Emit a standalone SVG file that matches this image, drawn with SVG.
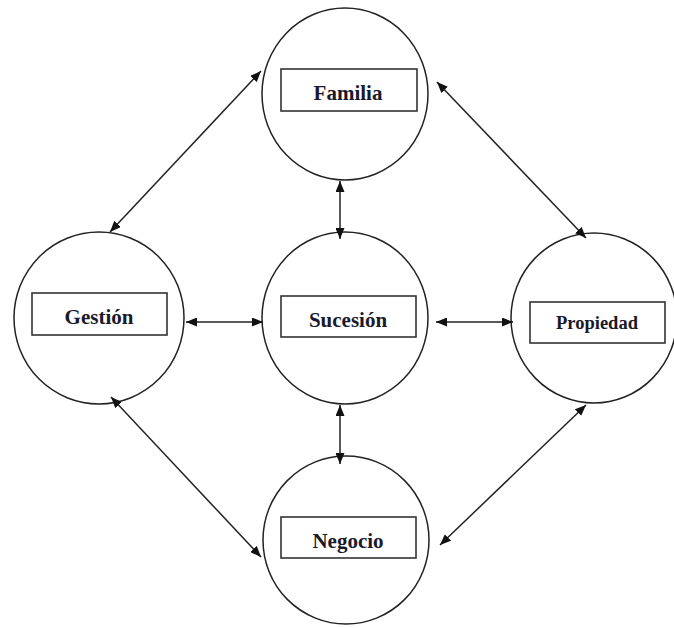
<svg xmlns="http://www.w3.org/2000/svg" width="674" height="628" viewBox="0 0 674 628">
<style>
.c{fill:#fff;stroke:#222;stroke-width:1.5}
.b{fill:#fff;stroke:#333;stroke-width:1.6}
.t{font-family:"Liberation Serif","Times New Roman",serif;font-weight:bold;font-size:21px;fill:#1a1a2a;text-anchor:middle}
.e{fill:none;stroke:#222;stroke-width:1.5;marker-start:url(#ah);marker-end:url(#ah)}
</style>
<defs>
<marker id="ah" viewBox="0 0 11 9" refX="11" refY="4.5" markerWidth="11" markerHeight="9" markerUnits="userSpaceOnUse" orient="auto-start-reverse">
<path d="M0,0 L11,4.5 L0,9 z" fill="#111"/>
</marker>
</defs>
<rect width="674" height="628" fill="#fff"/>
<g id="familia">
<ellipse class="c" cx="345" cy="94" rx="83" ry="86"/>
<rect class="b" x="281" y="69" width="136" height="42"/>
<text class="t" x="348" y="100">Familia</text>
</g>
<g id="gestion">
<ellipse class="c" cx="99" cy="318" rx="85" ry="86"/>
<rect class="b" x="32" y="293" width="135" height="42"/>
<text class="t" x="99" y="324">Gestión</text>
</g>
<g id="sucesion">
<ellipse class="c" cx="345" cy="318" rx="83" ry="86"/>
<rect class="b" x="281" y="296" width="135" height="41"/>
<text class="t" x="348" y="327">Sucesión</text>
</g>
<g id="propiedad">
<ellipse class="c" cx="594" cy="318" rx="83" ry="85"/>
<rect class="b" x="530" y="302" width="135" height="41"/>
<text class="t" x="597" y="329" style="font-size:18.5px">Propiedad</text>
</g>
<g id="negocio">
<ellipse class="c" cx="346" cy="540" rx="83" ry="84"/>
<rect class="b" x="281" y="517" width="135" height="41"/>
<text class="t" x="348" y="548">Negocio</text>
</g>
<g id="connectors">
<line class="e" x1="261" y1="71" x2="110" y2="232"/>
<line class="e" x1="437" y1="82" x2="586" y2="238"/>
<line class="e" x1="340" y1="181" x2="340" y2="239"/>
<line class="e" x1="186" y1="322" x2="263" y2="322"/>
<line class="e" x1="436" y1="322" x2="513" y2="322"/>
<line class="e" x1="340" y1="405" x2="340" y2="464"/>
<line class="e" x1="111" y1="397" x2="261" y2="557"/>
<line class="e" x1="586" y1="405" x2="440" y2="545"/>
</g>
</svg>
